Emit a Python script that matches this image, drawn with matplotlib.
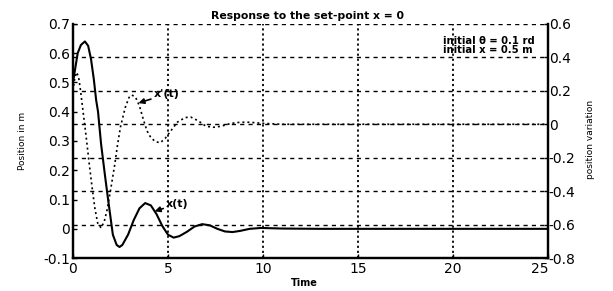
import matplotlib
matplotlib.use("Agg")
import matplotlib.pyplot as plt

# Data
t_pos = [0, 0.1, 0.25, 0.42, 0.63, 0.8, 0.95, 1.1, 1.22, 1.32, 1.48, 1.69, 1.85, 2.1,
         2.3, 2.45, 2.6, 2.9, 3.2, 3.5, 3.8, 4.1, 4.4, 4.7, 5.0, 5.3, 5.6, 6.0, 6.4,
         6.8, 7.2, 7.6, 8.0, 8.4, 8.8, 9.3, 9.9, 11, 13, 15, 18, 21, 25]
x_pos = [0.50, 0.54, 0.60, 0.628, 0.64, 0.625, 0.58, 0.51, 0.44, 0.40, 0.29, 0.18, 0.10, -0.02,
         -0.055, -0.062, -0.055, -0.02, 0.03, 0.07, 0.088, 0.08, 0.05, 0.01, -0.02, -0.03, -0.025, -0.01, 0.008,
         0.016, 0.012, 0.0, -0.009, -0.011, -0.007, 0.0, 0.003, 0.001, 0.0, 0.0, 0.0, 0.0, 0.0]

t_var = [0, 0.1, 0.2, 0.3, 0.4, 0.55, 0.7, 0.85, 1.0, 1.15, 1.3, 1.48, 1.65, 1.8, 2.0,
         2.2, 2.35, 2.5, 2.75, 2.95, 3.1, 3.3, 3.5, 3.7, 3.9, 4.1, 4.35, 4.6, 4.85, 5.1,
         5.5, 5.9, 6.2, 6.6, 7.0, 7.4, 7.8, 8.3, 8.8, 9.3, 9.9, 11, 15, 20, 25]
x_var = [0.20, 0.28, 0.31, 0.28, 0.20, 0.06, -0.08, -0.23, -0.37, -0.50, -0.59, -0.62, -0.58, -0.51, -0.38,
         -0.24, -0.12, -0.017, 0.10, 0.16, 0.175, 0.16, 0.11, 0.03, -0.04, -0.08, -0.105, -0.11, -0.085, -0.047,
         0.013, 0.04, 0.043, 0.02, -0.012, -0.018, -0.012, 0.005, 0.012, 0.012, 0.006, 0.0, 0.0, 0.0, 0.0]

x_ticks = [0, 5, 10, 15, 20, 25]
left_ticks = [-0.1, 0, 0.1, 0.2, 0.3, 0.4, 0.5, 0.6, 0.7]
right_ticks = [-0.8, -0.6, -0.4, -0.2, 0, 0.2, 0.4, 0.6]

def fmt(v):
    s = f"{v:g}"
    return "0" if s in ("0", "-0") else s

plt.rcParams['font.family'] = ['DejaVu Sans']

fig = plt.figure(figsize=(6.13, 2.91), dpi=100)
ax = fig.add_axes([0.119, 0.113, 0.775, 0.805])
ax2 = ax.twinx()

ax.set_xlim(0, 25)
ax.set_ylim(-0.1, 0.7)
ax2.set_ylim(-0.8, 0.6)

ax.set_xticks(x_ticks)
ax.set_xticklabels([fmt(v) for v in x_ticks], fontsize=10)
ax.set_yticks(left_ticks)
ax.set_yticklabels([fmt(v) for v in left_ticks], fontsize=10)
ax2.set_yticks(right_ticks)
ax2.set_yticklabels([fmt(v) for v in right_ticks], fontsize=10)

for a in (ax, ax2):
    a.tick_params(direction='in', length=3, width=1, pad=2, colors='black')
    a.spines['top'].set_visible(False)
    for s in ('left', 'right', 'bottom'):
        a.spines[s].set_linewidth(1.6)
ax.tick_params(axis='x', pad=3)
ax2.tick_params(axis='y', pad=0.5)
# keep the last x label from running into the right-axis label
ax.xaxis.get_major_ticks()[-1].label1.set_horizontalalignment('right')

# grids
ax.set_axisbelow(True)
for xv in x_ticks[1:-1]:
    ax.axvline(xv, color='black', lw=1.3, ls=(0, (1.2, 1.6)), zorder=0.5)
for yv in right_ticks[1:]:
    ax2.axhline(yv, color='black', lw=1.0, ls=(0, (3, 3)), zorder=0.5)

ax.plot(t_pos, x_pos, color='black', lw=1.5, zorder=3)
ax2.plot(t_var, x_var, color='black', lw=1.2, ls=(0, (1.2, 1.8)), zorder=3)

ax.annotate("x(t)", xy=(4.3, 0.06), xytext=(4.9, 0.085), fontsize=8, fontweight='bold',
            va='center', ha='left',
            arrowprops=dict(arrowstyle='-|>', color='black', lw=1.2, mutation_scale=8,
                            shrinkA=0, shrinkB=0))
ax2.annotate("x'(t)", xy=(3.45, 0.127), xytext=(4.25, 0.18), fontsize=8, fontweight='bold',
             va='center', ha='left',
             arrowprops=dict(arrowstyle='-|>', color='black', lw=1.2, mutation_scale=8,
                             shrinkA=0, shrinkB=0))

ax2.text(19.45, 0.53, "initial \u03b8 = 0.1 rd\ninitial x = 0.5 m", fontsize=7.2,
         fontweight='bold', ha='left', va='top', linespacing=0.9, multialignment='left')

fig.text(0.502, 0.945, "Response to the set-point x = 0", fontsize=7.8, fontweight='bold',
         ha='center', va='center')
fig.text(0.496, 0.028, "Time", fontsize=7, fontweight='bold', ha='center', va='center')
fig.text(0.036, 0.515, "Position in m", fontsize=6.5, rotation=90, ha='center', va='center')
fig.text(0.963, 0.52, "position variation", fontsize=6.5, rotation=90, ha='center', va='center')

fig.savefig("out.png", dpi=100)
